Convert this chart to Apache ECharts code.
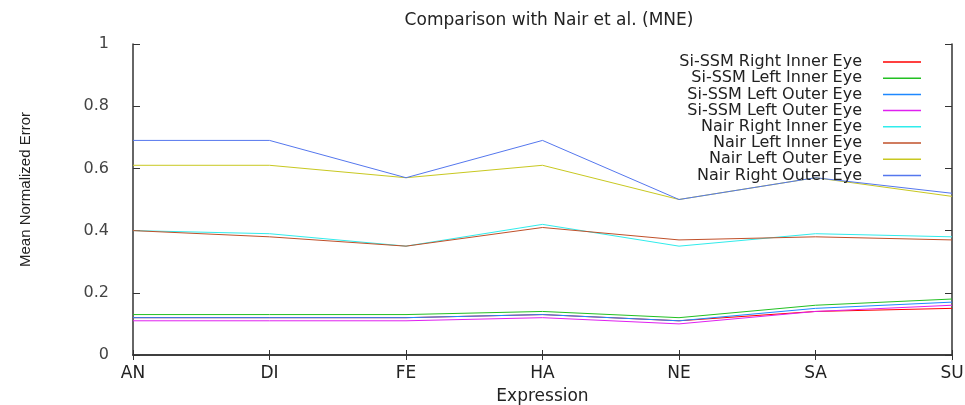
<!DOCTYPE html>
<html>
<head>
<meta charset="utf-8">
<script src="https://cdn.jsdelivr.net/npm/echarts@6/dist/echarts.min.js"></script>
<style>html,body{margin:0;padding:0;background:#fff;}#c{width:965px;height:405px;}</style>
</head>
<body>
<div id="c"></div>
<script>
const categories = ['AN', 'DI', 'FE', 'HA', 'NE', 'SA', 'SU'];
const yTicks = [0, 0.2, 0.4, 0.6, 0.8, 1];

const siRightInner = [0.12, 0.12, 0.12, 0.13, 0.11, 0.14, 0.15];
const siLeftInner  = [0.13, 0.13, 0.13, 0.14, 0.12, 0.16, 0.18];
const siLeftOuterA = [0.12, 0.12, 0.12, 0.13, 0.11, 0.15, 0.17];
const siLeftOuterB = [0.11, 0.11, 0.11, 0.12, 0.10, 0.14, 0.16];
const nairRightInner = [0.40, 0.39, 0.35, 0.42, 0.35, 0.39, 0.38];
const nairLeftInner  = [0.40, 0.38, 0.35, 0.41, 0.37, 0.38, 0.37];
const nairLeftOuter  = [0.61, 0.61, 0.57, 0.61, 0.50, 0.57, 0.51];
const nairRightOuter = [0.69, 0.69, 0.57, 0.69, 0.50, 0.57, 0.52];

const seriesDefs = [
  { id: 's1', label: 'Si-SSM Right Inner Eye', data: siRightInner, color: '#ff0000' },
  { id: 's2', label: 'Si-SSM Left Inner Eye', data: siLeftInner, color: '#22c022' },
  { id: 's3', label: 'Si-SSM Left Outer Eye', data: siLeftOuterA, color: '#1e88ff' },
  { id: 's4', label: 'Si-SSM Left Outer Eye', data: siLeftOuterB, color: '#e020f0' },
  { id: 's5', label: 'Nair Right Inner Eye', data: nairRightInner, color: '#30ecec' },
  { id: 's6', label: 'Nair Left Inner Eye', data: nairLeftInner, color: '#c0502a' },
  { id: 's7', label: 'Nair Left Outer Eye', data: nairLeftOuter, color: '#c8c820' },
  { id: 's8', label: 'Nair Right Outer Eye', data: nairRightOuter, color: '#5577ee' }
];

const legendFont = 'DejaVu Sans';
const legends = seriesDefs.map((s, i) => ({
  data: [s.id],
  formatter: () => s.label,
  orient: 'vertical',
  align: 'right',
  right: 44,
  top: 54 + i * 16.2,
  padding: 0,
  icon: 'rect',
  itemWidth: 38,
  itemHeight: 1.5,
  selectedMode: false,
  textStyle: { fontFamily: legendFont, fontSize: 16, color: '#222', padding: [0, 16, 0, 0] }
}));

const chart = echarts.init(document.getElementById('c'), null, { renderer: 'canvas' });
chart.setOption({
  backgroundColor: '#ffffff',
  animation: false,
  title: {
    text: 'Comparison with Nair et al. (MNE)',
    left: 544, textAlign: 'center', top: 7,
    textStyle: { fontFamily: legendFont, fontSize: 17, fontWeight: 'normal', color: '#222' }
  },
  legend: legends,
  grid: { left: 133, right: 13, top: 44, bottom: 50, outerBoundsMode: 'none', containLabel: false },
  xAxis: [
    {
      type: 'category', data: categories, boundaryGap: false,
      name: 'Expression', nameLocation: 'middle', nameGap: 33,
      nameTextStyle: { fontFamily: legendFont, fontSize: 17, color: '#222' },
      axisLine: { lineStyle: { color: '#333', width: 1.5 } },
      axisTick: { inside: true, length: 5, lineStyle: { color: '#333' } },
      axisLabel: { fontFamily: legendFont, fontSize: 17, color: '#222', margin: 10 },
      splitLine: { show: false }
    },
    {
      type: 'category', data: categories, boundaryGap: false, position: 'top',
      axisLine: { lineStyle: { color: '#333', width: 1.5 } },
      axisTick: { inside: true, length: 5, lineStyle: { color: '#333' } },
      axisLabel: { show: false }, splitLine: { show: false }
    }
  ],
  yAxis: [
    {
      type: 'value', min: 0, max: 1, interval: 0.2,
      name: 'Mean Normalized Error', nameLocation: 'middle', nameGap: 100, nameRotate: 90,
      nameTextStyle: { fontFamily: 'Liberation Sans Narrow, Liberation Sans', fontSize: 15, color: '#222', padding: [0, 0, 0, 20] },
      axisLine: { show: true, lineStyle: { color: '#333', width: 1.5 } },
      axisTick: { show: true, inside: true, length: 7, lineStyle: { color: '#333' } },
      axisLabel: {
        fontFamily: legendFont, fontSize: 16, color: '#444', margin: 24,
        formatter: v => (yTicks.includes(+v.toFixed(1)) ? String(+v.toFixed(1)) : '')
      },
      splitLine: { show: false }
    },
    {
      type: 'value', min: 0, max: 1, interval: 0.2, position: 'right',
      axisLine: { show: true, lineStyle: { color: '#333', width: 1.5 } },
      axisTick: { show: true, inside: true, length: 7, lineStyle: { color: '#333' } },
      axisLabel: { show: false }, splitLine: { show: false }
    }
  ],
  series: seriesDefs.map(s => ({
    id: s.id, name: s.id, type: 'line', data: s.data,
    xAxisIndex: 0, yAxisIndex: 0,
    symbol: 'none', showSymbol: false,
    lineStyle: { width: 1, color: s.color },
    itemStyle: { color: s.color }
  }))
});
</script>
</body>
</html>
